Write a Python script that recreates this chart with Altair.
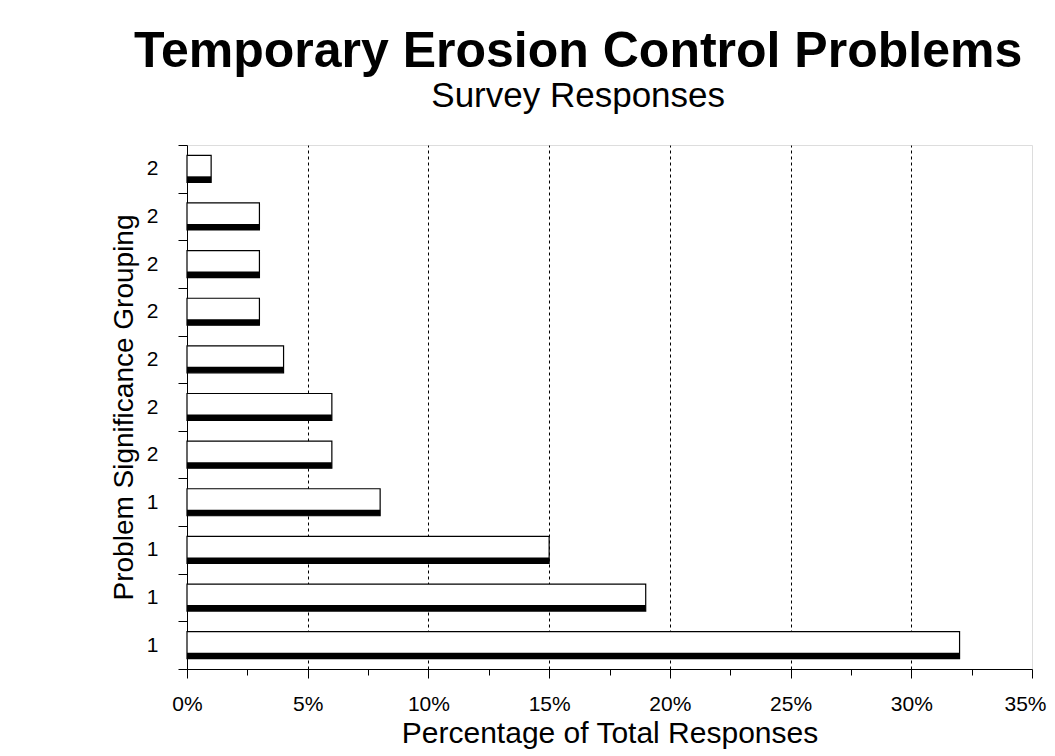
import altair as alt
import pandas as pd

# Data (top to bottom)
groups = ["2", "2", "2", "2", "2", "2", "2", "1", "1", "1", "1"]
values = [1, 3, 3, 3, 4, 6, 6, 8, 15, 19, 32]
x_ticks = [0, 2.5, 5, 7.5, 10, 12.5, 15, 17.5, 20, 22.5, 25, 27.5, 30, 32.5, 35]

cats = [f"{i:02d}|{g}" for i, g in enumerate(groups)]
df = pd.DataFrame({"cat": cats, "value": values})

FONT = "Liberation Sans"

x_enc = alt.X(
    "value:Q",
    scale=alt.Scale(domain=[0, 35], nice=False, zero=True),
    axis=alt.Axis(
        values=x_ticks,
        labelExpr="datum.value % 5 === 0 ? datum.value + '%' : ''",
        title="Percentage of Total Responses",
        titleFont=FONT, titleFontSize=30, titleFontWeight="normal", titleColor="black",
        titlePadding=4,
        labelFont=FONT, labelFontSize=21, labelColor="black", labelPadding=15,
        labelFlush=False, labelOverlap=False,
        labelAlign={"condition": {"test": "datum.value === 35", "value": "right"}, "value": "center"},
        labelOffset={"condition": {"test": "datum.value === 35", "value": 14}, "value": 0},
        domainColor="black", tickColor="black",
        tickSize={"condition": {"test": "datum.value % 5 === 0", "value": 9}, "value": 6},
        grid=True, gridColor="black", gridDash=[3, 3], gridWidth=1,
        gridOpacity={"condition": {"test": "datum.value % 5 === 0 && datum.value > 0 && datum.value < 35", "value": 1}, "value": 0},
    ),
)

y_enc = alt.Y(
    "cat:N",
    sort=cats,
    scale=alt.Scale(paddingInner=0, paddingOuter=0),
    axis=alt.Axis(
        title="Problem Significance Grouping",
        titleFont=FONT, titleFontSize=28, titleFontWeight="normal", titleColor="black",
        titlePadding=8,
        labelExpr="split(datum.value, '|')[1]",
        labelFont=FONT, labelFontSize=21, labelColor="black", labelPadding=20,
        tickBand="extent", tickSize=9, tickColor="black", domainColor="black",
        grid=False,
    ),
)

white = alt.Chart(df).mark_bar(
    size=27, color="white", stroke="black", strokeWidth=1.2
).encode(x=x_enc, y=y_enc)

shade = alt.Chart(df).mark_bar(
    size=6, color="black", yOffset=10.5
).encode(x="value:Q", y=alt.Y("cat:N", sort=cats))

chart = alt.layer(white, shade).properties(
    width=845,
    height=524,
    autosize=alt.AutoSizeParams(type="none"),
    padding={"left": 179, "top": 137, "right": 15, "bottom": 85},
    title=alt.TitleParams(
        text="Temporary Erosion Control Problems",
        subtitle="Survey Responses",
        anchor="middle", frame="bounds",
        font=FONT, fontSize=50, fontWeight="bold", color="black",
        subtitleFont=FONT, subtitleFontSize=35, subtitleColor="black",
        subtitlePadding=2, offset=20,
    ),
).configure_view(stroke="black", strokeWidth=1.2).configure(background="white")

chart.save("out.html", embed_options={"renderer": "svg", "actions": False})
